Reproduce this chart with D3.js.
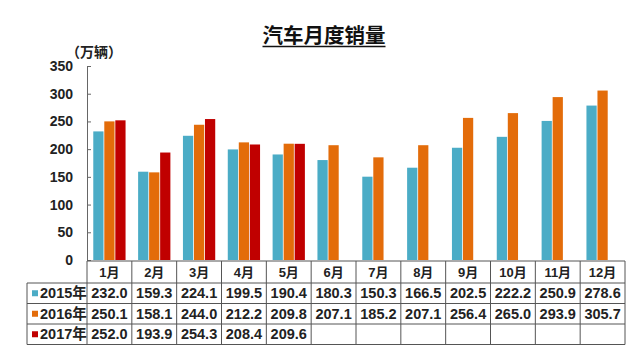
<!DOCTYPE html>
<html><head><meta charset="utf-8">
<script src="https://cdn.jsdelivr.net/npm/d3@7"></script>
<style>
body{margin:0;background:#fff;}
svg{display:block;font-family:"Liberation Sans","Noto Sans CJK SC",Arial,sans-serif;}
</style></head><body>
<svg id="c" width="640" height="358"></svg>
<script>
const months = ["1月","2月","3月","4月","5月","6月","7月","8月","9月","10月","11月","12月"];
const seriesNames = ["2015年","2016年","2017年"];
const s2015 = [232.0,159.3,224.1,199.5,190.4,180.3,150.3,166.5,202.5,222.2,250.9,278.6];
const s2016 = [250.1,158.1,244.0,212.2,209.8,207.1,185.2,207.1,256.4,265.0,293.9,305.7];
const s2017 = [252.0,193.9,254.3,208.4,209.6];
const yTicks = [0,50,100,150,200,250,300,350];
const colors = ["#4bacc6","#e36c0a","#c00000"];
const allSeries = [s2015,s2016,s2017];

(function(){
const svg = d3.select("#c");
const pLeft = 87, pRight = 625, pTop = 66, pBottom = 260;

const x = d3.scaleBand().domain(months).range([pLeft,pRight]).padding(0);
const xs = d3.scaleBand().domain(seriesNames).range([0,x.bandwidth()]).paddingInner(0.07).paddingOuter(0.57);
const y = d3.scaleLinear().domain([0,350]).range([pBottom,pTop]);

// title
const title = svg.append("text").attr("x",324).attr("y",43).attr("text-anchor","middle")
  .attr("font-size",20.5).attr("font-weight","bold").attr("fill","#111")
  .attr("font-family","Noto Sans CJK SC").text("汽车月度销量");
const tb = title.node().getBBox();
svg.append("line").attr("x1",tb.x).attr("x2",tb.x+tb.width).attr("y1",46.5).attr("y2",46.5)
  .attr("stroke","#111").attr("stroke-width",1.5);

// unit
svg.append("text").attr("x",66).attr("y",56.5).attr("font-size",14).attr("font-weight","bold")
  .attr("fill","#222").attr("font-family","Noto Sans CJK SC").text("（万辆）");

// y axis
const yAxis = d3.axisRight(y).tickValues(yTicks).tickSize(4).tickFormat("");
const ga = svg.append("g").attr("transform",`translate(${pLeft},0)`).call(yAxis);
ga.select(".domain").attr("stroke","#666");
ga.selectAll(".tick line").attr("stroke","#666");
svg.append("g").selectAll("text").data(yTicks).join("text")
  .attr("x",73).attr("y",d=>y(d)).attr("dy","0.36em").attr("text-anchor","end")
  .attr("font-size",14).attr("font-weight","bold").attr("fill","#222").text(d=>d);

// bars
allSeries.forEach((arr,si)=>{
  svg.append("g").selectAll("rect").data(arr).join("rect")
    .attr("x",(d,i)=>x(months[i])+xs(seriesNames[si]))
    .attr("width",xs.bandwidth())
    .attr("y",d=>y(d)).attr("height",d=>y(0)-y(d))
    .attr("fill",colors[si]);
});

// table
const rowTops = [261,283,303.5,324];
const rowH = [22,20.5,20.5,20.5];
const labelLeft = 27;
const tg = svg.append("g");
const stroke = "#555";
tg.append("line").attr("x1",pLeft).attr("x2",pRight).attr("y1",261).attr("y2",261).attr("stroke",stroke);
[283,303.5,324,344.5].forEach(yy=>{
  tg.append("line").attr("x1",labelLeft).attr("x2",pRight).attr("y1",yy).attr("y2",yy).attr("stroke",stroke);
});
tg.append("line").attr("x1",labelLeft).attr("x2",labelLeft).attr("y1",283).attr("y2",344.5).attr("stroke",stroke);
months.forEach(m=>{
  tg.append("line").attr("x1",x(m)).attr("x2",x(m)).attr("y1",261).attr("y2",344.5).attr("stroke",stroke);
});
tg.append("line").attr("x1",pRight).attr("x2",pRight).attr("y1",261).attr("y2",344.5).attr("stroke",stroke);

tg.selectAll("text.m").data(months).join("text")
  .attr("x",d=>x(d)+x.bandwidth()/2).attr("y",272).attr("dy","0.36em").attr("text-anchor","middle")
  .attr("font-size",13).attr("font-weight","bold").attr("fill","#222").text(d=>d);

allSeries.forEach((arr,si)=>{
  const cy = rowTops[si+1]+rowH[si+1]/2;
  tg.append("rect").attr("x",32).attr("y",cy-3).attr("width",6).attr("height",6).attr("fill",colors[si]);
  tg.append("text").attr("x",40).attr("y",cy).attr("dy","0.36em").attr("font-size",14.5)
    .attr("font-weight","bold").attr("fill","#222").text(seriesNames[si]);
  tg.append("g").selectAll("text").data(arr).join("text")
    .attr("x",(d,i)=>x(months[i])+x.bandwidth()/2).attr("y",cy).attr("dy","0.36em")
    .attr("text-anchor","middle").attr("font-size",14.5).attr("font-weight","bold").attr("fill","#222")
    .text(d=>d.toFixed(1));
});
})();
</script>
</body></html>
